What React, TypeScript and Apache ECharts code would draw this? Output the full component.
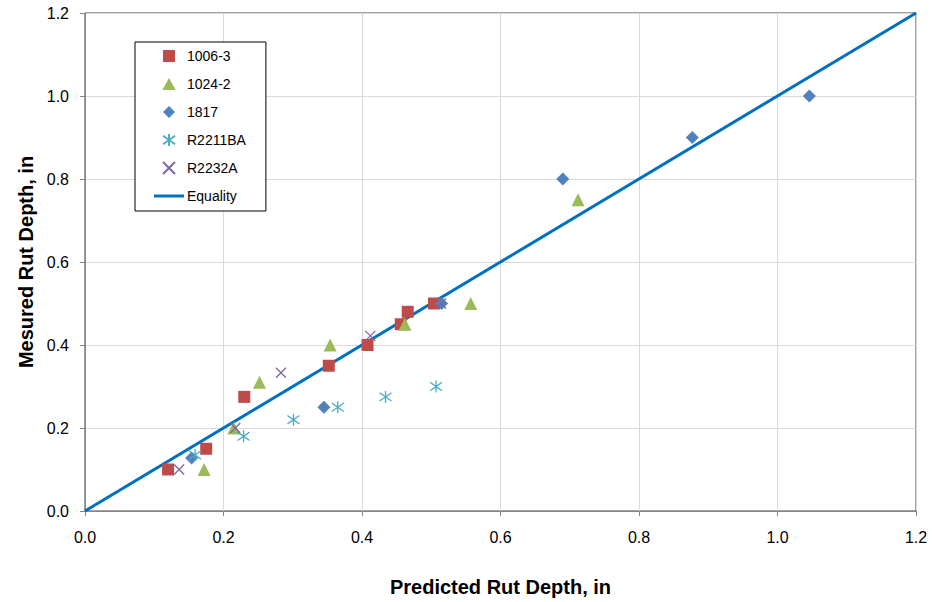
import React, { useEffect, useRef } from "react";
import * as echarts from "echarts";

const xTicks = [0, 0.2, 0.4, 0.6, 0.8, 1.0, 1.2];
const yTicks = [0, 0.2, 0.4, 0.6, 0.8, 1.0, 1.2];

const seriesNames = ["1006-3", "1024-2", "1817", "R2211BA", "R2232A", "Equality"];

const data1006_3 = [
  [0.12, 0.1], [0.175, 0.15], [0.23, 0.275], [0.352, 0.35],
  [0.408, 0.4], [0.456, 0.45], [0.466, 0.48], [0.504, 0.5],
];
const data1024_2 = [
  [0.172, 0.1], [0.215, 0.2], [0.252, 0.31], [0.354, 0.4],
  [0.462, 0.45], [0.557, 0.5], [0.712, 0.75],
];
const data1817 = [
  [0.154, 0.128], [0.345, 0.25], [0.515, 0.5], [0.69, 0.8], [0.877, 0.9], [1.046, 1.0],
];
const dataR2211BA = [
  [0.159, 0.135], [0.229, 0.18], [0.301, 0.22], [0.365, 0.25], [0.434, 0.275], [0.507, 0.3],
];
const dataR2232A = [
  [0.136, 0.1], [0.217, 0.2], [0.283, 0.333], [0.412, 0.422], [0.514, 0.5],
];
const dataEquality = [
  [0, 0], [1.2, 1.2],
];

const FONT = "'Liberation Sans', Arial, sans-serif";
const STAR = "path://M5 0L5 10M0 1.5L10 8.5M0 8.5L10 1.5";
const CROSS = "path://M0 0L10 10M0 10L10 0";
const SQUARE_ICON = "path://M0 0H10V10H0Z";
const TRIANGLE_ICON = "path://M5 0L10 9L0 9Z";
const DIAMOND_ICON = "path://M5 0L10 5L5 10L0 5Z";
const LINE_ICON = "path://M0 0H30V3H0Z";

export default function App() {
  const ref = useRef<HTMLDivElement>(null);
  useEffect(() => {
    if (!ref.current) return;
    const chart = echarts.init(ref.current, null, { renderer: "svg" });
    const axisCommon = {
      type: "value",
      min: 0,
      max: 1.2,
      interval: 0.2,
      axisLine: { show: true, onZero: false, lineStyle: { color: "#868686", width: 1 } },
      axisTick: { show: true, inside: false, length: 5, lineStyle: { color: "#868686" } },
      splitLine: { show: true, lineStyle: { color: "#d9d9d9", width: 1 } },
      nameTextStyle: { fontFamily: FONT, fontSize: 20, fontWeight: "bold", color: "#000" },
    };
    chart.setOption({
      animation: false,
      backgroundColor: "#fff",
      grid: {
        left: 85, right: 16, top: 13, bottom: 91,
        show: true, borderColor: "#404040", borderWidth: 1, backgroundColor: "transparent",
      },
      legend: {
        data: [
          { name: seriesNames[0], icon: SQUARE_ICON },
          { name: seriesNames[1], icon: TRIANGLE_ICON },
          { name: seriesNames[2], icon: DIAMOND_ICON },
          { name: seriesNames[3] },
          { name: seriesNames[4] },
          { name: seriesNames[5], icon: LINE_ICON },
        ],
        orient: "vertical",
        left: 135,
        top: 42,
        padding: [7, 20, 8, 19],
        itemGap: 14,
        itemWidth: 30,
        itemHeight: 12,
        symbolKeepAspect: true,
        borderColor: "#000",
        borderWidth: 1,
        backgroundColor: "#fff",
        textStyle: { fontFamily: FONT, fontSize: 14, color: "#000", padding: [0, 0, 0, -2] },
      },
      xAxis: {
        ...axisCommon,
        name: "Predicted Rut Depth, in",
        nameLocation: "middle",
        nameGap: 66,
        axisLabel: {
          formatter: (v: number) => v.toFixed(1),
          fontFamily: FONT, fontSize: 16, color: "#000", margin: 18,
          customValues: xTicks,
        },
      },
      yAxis: {
        ...axisCommon,
        name: "Mesured Rut Depth, in",
        nameLocation: "middle",
        nameGap: 48,
        axisLabel: {
          formatter: (v: number) => v.toFixed(1),
          fontFamily: FONT, fontSize: 16, color: "#000", margin: 16,
          customValues: yTicks,
        },
      },
      series: [
        {
          name: "Equality",
          type: "line",
          data: dataEquality,
          symbol: "none",
          showSymbol: false,
          z: 1,
          lineStyle: { color: "#0070C0", width: 3 },
          itemStyle: { color: "#0070C0" },
        },
        {
          name: "1006-3",
          type: "scatter",
          data: data1006_3,
          symbol: "rect",
          symbolSize: 12,
          z: 3,
          itemStyle: { color: "#BE4B48", opacity: 1 },
        },
        {
          name: "1024-2",
          type: "scatter",
          data: data1024_2,
          symbol: "triangle",
          symbolSize: 13,
          z: 3,
          itemStyle: { color: "#9BBB59", opacity: 1 },
        },
        {
          name: "1817",
          type: "scatter",
          data: data1817,
          symbol: "diamond",
          symbolSize: 13,
          z: 3,
          itemStyle: { color: "#4F81BD", opacity: 1 },
        },
        {
          name: "R2211BA",
          type: "scatter",
          data: dataR2211BA,
          symbol: STAR,
          symbolSize: 12,
          z: 3,
          itemStyle: { color: "rgba(0,0,0,0)", borderColor: "#4BACC6", borderWidth: 1.3, opacity: 1 },
        },
        {
          name: "R2232A",
          type: "scatter",
          data: dataR2232A,
          symbol: CROSS,
          symbolSize: 10,
          z: 3,
          itemStyle: { color: "rgba(0,0,0,0)", borderColor: "#8064A2", borderWidth: 1.3, opacity: 1 },
        },
      ],
    });
    return () => chart.dispose();
  }, []);
  return (
    <div
      ref={ref}
      style={{ position: "fixed", left: 0, top: 0, width: 932, height: 602 }}
    />
  );
}
